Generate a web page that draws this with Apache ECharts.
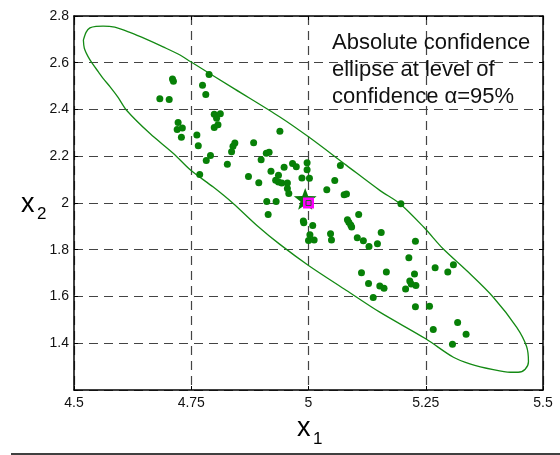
<!DOCTYPE html>
<html>
<head>
<meta charset="utf-8">
<script src="https://cdn.jsdelivr.net/npm/echarts@6/dist/echarts.min.js"></script>
<style>
html,body{margin:0;padding:0;background:#fff;}
#chart{width:560px;height:455px;}
</style>
</head>
<body>
<div id="chart"></div>
<script>
// ---- data ----
const sampleX = [4.683,4.703,4.710,4.712,4.774,4.781,4.788,4.799,4.812,4.804,
  4.799,4.807,4.722,4.731,4.720,4.729,4.762,4.765,4.791,4.782,
  4.768,4.843,4.839,4.836,4.883,4.827,4.872,4.894,4.899,4.910,
  4.916,4.920,4.930,4.936,4.936,4.911,4.931,4.914,4.939,4.948,
  4.966,4.974,4.997,4.997,4.943,4.955,4.955,4.958,4.986,5.002,
  4.989,4.990,5.009,5.039,5.056,5.068,5.076,5.081,5.107,5.197,
  5.083,5.086,5.090,5.092,5.047,5.049,5.003,5.000,5.012,5.155,
  5.104,5.117,5.129,5.147,5.228,5.214,5.113,5.166,5.226,5.128,
  5.216,5.219,5.229,5.152,5.161,5.207,5.138,5.270,5.297,5.309,
  5.228,5.258,5.318,5.266,5.336,5.307];
const sampleY = [2.446,2.443,2.530,2.521,2.504,2.464,2.550,2.380,2.382,2.363,
  2.323,2.335,2.344,2.321,2.314,2.281,2.291,2.245,2.203,2.182,
  2.122,2.257,2.243,2.219,2.258,2.166,2.113,2.087,2.185,2.213,
  2.217,2.136,2.097,2.090,2.119,2.006,2.006,1.951,2.307,2.153,
  2.169,2.155,2.172,2.142,2.086,2.086,2.062,2.041,2.107,2.106,
  1.923,1.915,1.904,2.057,2.096,2.160,2.035,2.039,1.951,1.997,
  1.928,1.918,1.906,1.897,1.868,1.842,1.864,1.840,1.842,1.874,
  1.851,1.839,1.814,1.826,1.836,1.766,1.702,1.705,1.696,1.656,
  1.666,1.654,1.647,1.645,1.635,1.632,1.596,1.723,1.705,1.736,
  1.556,1.558,1.489,1.459,1.439,1.396];
const ellipseX = [4.520,4.526,4.534,4.547,4.562,4.587,4.619,4.655,4.690,4.726,
  4.749,4.843,4.939,5.000,5.081,5.152,5.195,5.246,5.287,5.337,
  5.394,5.444,5.465,5.469,5.462,5.447,5.430,5.394,5.344,5.309,
  5.250,5.152,5.081,5.000,4.939,4.890,4.840,4.797,4.749,4.712,
  4.662,4.612,4.594,4.577,4.562,4.552,4.539,4.530,4.522,4.520];
const ellipseY = [2.697,2.731,2.749,2.756,2.757,2.752,2.730,2.700,2.668,2.633,
  2.604,2.487,2.368,2.283,2.161,2.054,1.997,1.896,1.804,1.711,
  1.597,1.468,1.386,1.321,1.289,1.276,1.276,1.287,1.312,1.340,
  1.419,1.533,1.626,1.733,1.823,1.904,1.997,2.068,2.140,2.212,
  2.297,2.397,2.452,2.497,2.533,2.561,2.597,2.626,2.662,2.697];
const meanPoint = [4.993, 2.019];
const truePoint = [5.0, 2.0];
const xTickLabels = ['4.5','4.75','5','5.25','5.5'];
const yTickLabels = ['1.4','1.6','1.8','2','2.2','2.4','2.6','2.8'];
const annotation = ['Absolute confidence','ellipse at level of','confidence \u03b1=95%'];

// ---- chart ----
const FONT = 'Liberation Sans, Arial, sans-serif';
const chart = echarts.init(document.getElementById('chart'), null, {renderer:'canvas'});
const grid = {left:74, right:17, top:16, bottom:65};
const gridLine = {show:true, lineStyle:{color:'#444', type:[9,6], width:1.2}};
const fmtX = v => { const s = String(+v.toFixed(2)); return xTickLabels.includes(s) ? s : ''; };
const fmtY = v => { const s = String(+v.toFixed(2)); return yTickLabels.includes(s) ? s : ''; };

// five-pointed star marker drawn around the data point (marker shape only)
function renderStar(params, api) {
  const c = api.coord([api.value(0), api.value(1)]);
  const R = 12, r = 5;
  const pts = [];
  for (let k = 0; k < 10; k++) {
    const rad = (k % 2 === 0) ? R : r;
    const a = -Math.PI / 2 + k * Math.PI / 5;
    pts.push([c[0] + rad * Math.cos(a), c[1] + 1.5 + rad * Math.sin(a)]);
  }
  return {type:'polygon', shape:{points:pts}, style:{fill:'#0a7a0a'}};
}

const option = {
  animation:false,
  backgroundColor:'#fff',
  grid: grid,
  xAxis:[{
    type:'value', min:4.5, max:5.5, interval:0.25,
    axisLine:{show:true, onZero:false, lineStyle:{color:'#000', width:1.5}},
    axisTick:{show:true, inside:true, length:4, lineStyle:{color:'#000'}},
    axisLabel:{formatter:fmtX, fontFamily:FONT, fontSize:14, color:'#111', margin:6},
    splitLine:gridLine
  },{
    type:'value', position:'top', min:4.5, max:5.5, interval:0.25,
    axisLine:{show:true, onZero:false, lineStyle:{color:'#000', width:1.5}},
    axisTick:{show:true, inside:true, length:4, lineStyle:{color:'#000'}},
    axisLabel:{show:false}, splitLine:{show:false}
  }],
  yAxis:[{
    type:'value', min:1.2, max:2.8, interval:0.2,
    axisLine:{show:true, onZero:false, lineStyle:{color:'#000', width:1.5}},
    axisTick:{show:true, inside:true, length:4, lineStyle:{color:'#000'}},
    axisLabel:{formatter:fmtY, fontFamily:FONT, fontSize:14, color:'#111', margin:5},
    splitLine:gridLine
  },{
    type:'value', position:'right', min:1.2, max:2.8, interval:0.2,
    axisLine:{show:true, onZero:false, lineStyle:{color:'#000', width:1.5}},
    axisTick:{show:true, inside:true, length:4, lineStyle:{color:'#000'}},
    axisLabel:{show:false}, splitLine:{show:false}
  }],
  series:[
    {
      type:'line', xAxisIndex:0, yAxisIndex:0,
      data: ellipseX.map((x,i)=>[x, ellipseY[i]]),
      smooth:0.3, showSymbol:false, symbol:'none',
      lineStyle:{color:'#148a14', width:1.3}, z:2
    },
    {
      type:'scatter', xAxisIndex:0, yAxisIndex:0,
      data: sampleX.map((x,i)=>[x, sampleY[i]]),
      symbol:'circle', symbolSize:7,
      itemStyle:{color:'#078007', opacity:1}, z:3
    },
    {
      type:'custom', xAxisIndex:0, yAxisIndex:0, data:[meanPoint],
      renderItem: renderStar, z:4
    },
    {
      type:'scatter', xAxisIndex:0, yAxisIndex:0, data:[truePoint], symbol:'rect', symbolSize:11,
      itemStyle:{color:'#ff00ff', opacity:1}, z:5
    },
    {
      type:'scatter', xAxisIndex:0, yAxisIndex:0, data:[truePoint], symbol:'rect', symbolSize:5,
      itemStyle:{color:'rgba(0,0,0,0)', borderColor:'#2c5e2c', borderWidth:1, opacity:1}, z:6
    }
  ],
  graphic:[
    {type:'text', x:332, y:29, z:10, style:{text:annotation.join('\n'), fontFamily:FONT, fontSize:22, lineHeight:27, fill:'#111', verticalAlign:'top'}},
    {type:'text', x:297, y:429, z:10, style:{text:'x', fontFamily:FONT, fontSize:27, fill:'#000', verticalAlign:'middle'}},
    {type:'text', x:313, y:439, z:10, style:{text:'1', fontFamily:FONT, fontSize:17, fill:'#000', verticalAlign:'middle'}},
    {type:'text', x:21, y:205, z:10, style:{text:'x', fontFamily:FONT, fontSize:27, fill:'#000', verticalAlign:'middle'}},
    {type:'text', x:37, y:214, z:10, style:{text:'2', fontFamily:FONT, fontSize:17, fill:'#000', verticalAlign:'middle'}},
    {type:'line', z:10, shape:{x1:11, y1:454, x2:560, y2:454}, style:{stroke:'#000', lineWidth:1.5}}
  ]
};
chart.setOption(option);
</script>
</body>
</html>
